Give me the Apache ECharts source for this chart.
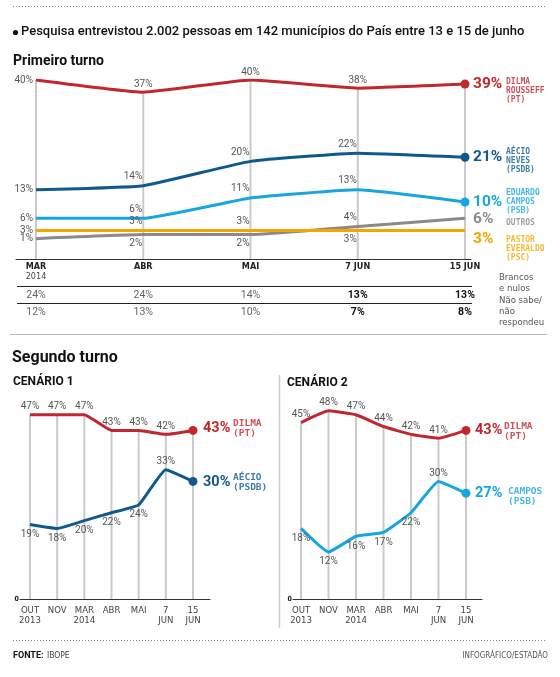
<!DOCTYPE html>
<html><head><meta charset="utf-8">
<script src="https://cdn.jsdelivr.net/npm/echarts@6/dist/echarts.min.js"></script>
<style>html,body{margin:0;padding:0;background:#fff}#c{width:560px;height:677px}</style>
</head><body><div id="c"></div>
<script>
// ---------- DATA ----------
const topCategories = ['MAR\n2014', 'ABR', 'MAI', '7 JUN', '15 JUN'];
const dilma1 = [40, 37, 40, 38, 39];
const aecio1 = [13, 14, 20, 22, 21];
const campos1 = [6, 6, 11, 13, 10];
const outros1 = [1, 2, 2, 4, 6];
const everaldo1 = [3, 3, 3, 3, 3];
const brancosNulos = ['24%', '24%', '14%', '13%', '13%'];
const naoSabe = ['12%', '13%', '10%', '7%', '8%'];
const secondCategories = ['OUT\n2013', 'NOV', 'MAR\n2014', 'ABR', 'MAI', '7\nJUN', '15\nJUN'];
const c1Dilma = [47, 47, 47, 43, 43, 42, 43];
const c1Aecio = [19, 18, 20, 22, 24, 33, 30];
const c2Dilma = [45, 48, 47, 44, 42, 41, 43];
const c2Campos = [18, 12, 16, 17, 22, 30, 27];
const names1 = {dilma: 'DILMA\nROUSSEFF\n(PT)', aecio: 'AÉCIO\nNEVES\n(PSDB)', campos: 'EDUARDO\nCAMPOS\n(PSB)', outros: 'OUTROS', everaldo: 'PASTOR\nEVERALDO\n(PSC)'};
const names2 = {dilma: 'DILMA\n(PT)', aecio: 'AÉCIO\n(PSDB)', campos: 'CAMPOS\n(PSB)'};

// ---------- STYLE ----------
const COND = '"DejaVu Sans Condensed",sans-serif';
const HEAD = 'Roboto,"Noto Sans",sans-serif';
const NUM = 'Roboto,sans-serif';
const MONO = '"DejaVu Sans Mono",monospace';
const RED = '#c1272d', DBLUE = '#0f5a8c', LBLUE = '#18a6e0', GRAY = '#8a8a8a', ORANGE = '#f5a500';
const LBL = '#555';
const DOT = 9;

function lbl(code, v) {
  const base = {show: true, formatter: v + '%', fontSize: 10, color: LBL, fontFamily: NUM};
  switch (code) {
    case 'L': return Object.assign(base, {position: 'left', distance: 3});
    case 'T': return Object.assign(base, {position: 'top', distance: 3});
    case 'LA': return Object.assign(base, {position: 'left', distance: 1, offset: [0, -9]});
    case 'LB': return Object.assign(base, {position: 'left', distance: 1, offset: [0, 9]});
    case 'B': return Object.assign(base, {position: 'bottom', distance: 5});
    default: return {show: false};
  }
}

function lineSeries(vals, color, ai, pos, o) {
  const n = vals.length;
  return {
    type: 'line', xAxisIndex: ai, yAxisIndex: ai, smooth: 0.12, symbol: 'circle', z: 3,
    showAllSymbol: true,
    lineStyle: {color: color, width: 3}, itemStyle: {color: color},
    data: vals.map((v, i) => {
      const last = i === n - 1;
      const d = {value: [i, v], symbolSize: last && o.dot ? DOT : 0};
      d.label = last ? {show: true, position: 'right', distance: o.dot ? o.gap - DOT / 2 : o.gap, offset: [0, o.valDy || 0],
        formatter: v + '%', fontSize: o.valSize, fontWeight: 'bold', color: color, fontFamily: NUM}
        : lbl(pos[i], v);
      return d;
    })
  };
}

function nameSeries(vals, name, color, ai, o) {
  const n = vals.length;
  return {
    type: 'scatter', xAxisIndex: ai, yAxisIndex: ai, symbolSize: 0, z: 4, silent: true,
    data: [{value: [n - 1, vals[n - 1]]}],
    label: {show: true, position: 'right', distance: o.dx, offset: [0, o.dy], formatter: name,
      fontFamily: MONO, fontWeight: 'bold', fontSize: o.size, lineHeight: o.lh, color: color, align: 'left'}
  };
}

function vlines(seriesList, ai, base) {
  const n = seriesList[0].length;
  const tops = [];
  for (let i = 0; i < n; i++) tops.push(Math.max.apply(null, seriesList.map(s => s[i])));
  return {
    type: 'custom', xAxisIndex: ai, yAxisIndex: ai, z: 1, silent: true,
    data: tops.map((t, i) => [i, t]),
    renderItem: function (params, api) {
      const p1 = api.coord([api.value(0), base]);
      const p2 = api.coord([api.value(0), api.value(1)]);
      return {type: 'line', shape: {x1: p1[0], y1: p1[1], x2: p2[0], y2: p2[1]},
        style: {stroke: '#cacaca', lineWidth: 2}};
    }
  };
}

function catFormatter(cats, boldFirst) {
  return function (v) {
    const c = cats[Math.round(v)];
    if (c === undefined) return '';
    const parts = c.split('\n');
    if (boldFirst) return '{b|' + parts[0] + '}' + (parts[1] ? '\n{r|' + parts[1] + '}' : '');
    return parts.join('\n');
  };
}

const chart = echarts.init(document.getElementById('c'), null, {renderer: 'canvas'});

const topPos = {
  dilma: ['L', 'T', 'T', 'T'],
  aecio: ['L', 'LA', 'LA', 'LA'],
  campos: ['L', 'LA', 'LA', 'LA'],
  outros: ['L', 'LB', 'LB', 'LA'],
  everaldo: ['L', 'LA', 'LA', 'LB']
};
const c1Pos = {dilma: ['T', 'T', 'T', 'T', 'T', 'T'], other: ['B', 'B', 'B', 'B', 'B', 'T']};

const option = {
  animation: false,
  backgroundColor: '#fff',
  grid: [
    {left: 16, top: 80, width: 455, height: 179},
    {left: 20, top: 403, width: 190, height: 196},
    {left: 293, top: 403, width: 189, height: 196}
  ],
  xAxis: [
    {type: 'value', gridIndex: 0, min: -0.1865, max: 4.056,
      axisLine: {show: true, onZero: false, lineStyle: {color: '#333', width: 1}}, axisTick: {show: false}, splitLine: {show: false},
      axisLabel: {customValues: [0, 1, 2, 3, 4], formatter: catFormatter(topCategories, true), margin: 3,
        rich: {b: {fontFamily: COND, fontWeight: 'bold', fontSize: 9, color: '#222', lineHeight: 10},
               r: {fontFamily: COND, fontSize: 9, color: '#444', lineHeight: 9}}}},
    {type: 'value', gridIndex: 1, min: -0.368, max: 6.626,
      axisLine: {show: true, onZero: false, lineStyle: {color: '#333', width: 1}}, axisTick: {show: false}, splitLine: {show: false},
      axisLabel: {customValues: [0, 1, 2, 3, 4, 5, 6], formatter: catFormatter(secondCategories, false), margin: 7,
        fontFamily: COND, fontSize: 9.5, color: '#444', lineHeight: 9.5}},
    {type: 'value', gridIndex: 2, min: -0.291, max: 6.582,
      axisLine: {show: true, onZero: false, lineStyle: {color: '#333', width: 1}}, axisTick: {show: false}, splitLine: {show: false},
      axisLabel: {customValues: [0, 1, 2, 3, 4, 5, 6], formatter: catFormatter(secondCategories, false), margin: 7,
        fontFamily: COND, fontSize: 9.5, color: '#444', lineHeight: 9.5}}
  ],
  yAxis: [
    {type: 'value', gridIndex: 0, min: -4, max: 40, show: false},
    {type: 'value', gridIndex: 1, min: 0, max: 50, axisLine: {show: false}, axisTick: {show: false}, splitLine: {show: false},
      axisLabel: {customValues: [0], margin: 1, fontSize: 7, fontWeight: 'bold', color: '#222', fontFamily: COND}},
    {type: 'value', gridIndex: 2, min: 0, max: 50, axisLine: {show: false}, axisTick: {show: false}, splitLine: {show: false},
      axisLabel: {customValues: [0], margin: 1, fontSize: 7, fontWeight: 'bold', color: '#222', fontFamily: COND}}
  ],
  series: [
    vlines([dilma1, aecio1, campos1, outros1, everaldo1], 0, -4),
    lineSeries(outros1, GRAY, 0, topPos.outros, {dot: false, gap: 8, valDy: 1, valSize: 15.5}),
    lineSeries(everaldo1, ORANGE, 0, topPos.everaldo, {dot: false, gap: 8, valDy: 9, valSize: 15.5}),
    lineSeries(campos1, LBLUE, 0, topPos.campos, {dot: true, gap: 8, valDy: 0, valSize: 15.5}),
    lineSeries(aecio1, DBLUE, 0, topPos.aecio, {dot: true, gap: 8, valDy: 0, valSize: 15.5}),
    lineSeries(dilma1, RED, 0, topPos.dilma, {dot: true, gap: 8, valDy: 0, valSize: 15.5}),
    nameSeries(dilma1, names1.dilma, RED, 0, {dx: 41, dy: 7, size: 8, lh: 9}),
    nameSeries(aecio1, names1.aecio, DBLUE, 0, {dx: 41, dy: 4, size: 8, lh: 9}),
    nameSeries(campos1, names1.campos, LBLUE, 0, {dx: 41, dy: 0, size: 8, lh: 9}),
    nameSeries(outros1, names1.outros, GRAY, 0, {dx: 41, dy: 5, size: 8, lh: 9}),
    nameSeries(everaldo1, names1.everaldo, ORANGE, 0, {dx: 41, dy: 18, size: 8, lh: 9}),

    vlines([c1Dilma, c1Aecio], 1, 0),
    lineSeries(c1Aecio, DBLUE, 1, c1Pos.other, {dot: true, gap: 10, valDy: 1, valSize: 14.5}),
    lineSeries(c1Dilma, RED, 1, c1Pos.dilma, {dot: true, gap: 10, valDy: -2, valSize: 14.5}),
    nameSeries(c1Dilma, names2.dilma, RED, 1, {dx: 40, dy: -2, size: 9.5, lh: 10}),
    nameSeries(c1Aecio, names2.aecio, DBLUE, 1, {dx: 40, dy: 1, size: 9.5, lh: 10}),

    vlines([c2Dilma, c2Campos], 2, 0),
    lineSeries(c2Campos, LBLUE, 2, c1Pos.other, {dot: true, gap: 9, valDy: 0, valSize: 14.5}),
    lineSeries(c2Dilma, RED, 2, c1Pos.dilma, {dot: true, gap: 9, valDy: 0, valSize: 14.5}),
    nameSeries(c2Dilma, names2.dilma, RED, 2, {dx: 38, dy: 1, size: 9.5, lh: 10}),
    nameSeries(c2Campos, names2.campos, LBLUE, 2, {dx: 42, dy: 3, size: 9.5, lh: 10})
  ]
};
chart.setOption(option);

// ---------- TEXT / DECORATION ----------
const g = [];
function txt(x, y, text, font, fill, align, lh) {
  g.push({type: 'text', x: x, y: y, silent: true,
    style: {text: text, font: font, fill: fill, align: align || 'left', verticalAlign: 'middle', lineHeight: lh}});
}
function line(x1, y1, x2, y2, stroke, w, dash) {
  g.push({type: 'line', silent: true, shape: {x1: x1, y1: y1, x2: x2, y2: y2},
    style: {stroke: stroke, lineWidth: w, lineDash: dash || null}});
}
line(13, 6.5, 546, 6.5, '#888', 1, [1, 2]);
g.push({type: 'circle', silent: true, shape: {cx: 15.5, cy: 32.5, r: 2.6}, style: {fill: '#111'}});
txt(21, 32, 'Pesquisa entrevistou 2.002 pessoas em 142 municípios do País entre 13 e 15 de junho', '500 13px ' + HEAD, '#111');
txt(13, 61, 'Primeiro turno', 'bold 14px ' + HEAD, '#111');

// table under top chart
line(17, 286.5, 472, 286.5, '#222', 1);
line(17, 303.5, 472, 303.5, '#222', 1);
line(10, 334.5, 547, 334.5, '#bbb', 1);
for (let i = 0; i < topCategories.length; i++) {
  const x = chart.convertToPixel({xAxisIndex: 0}, i);
  const bold = i >= 3;
  const font = (bold ? 'bold 10.5px ' : '10.5px ') + NUM;
  const col = bold ? '#111' : '#666';
  txt(x, 295, brancosNulos[i], font, col, 'center');
  txt(x, 312, naoSabe[i], font, col, 'center');
}
txt(499, 283, 'Brancos\ne nulos', '9.5px ' + COND, '#555', 'left', 10.5);
txt(499, 312, 'Não sabe/\nnão\nrespondeu', '9.5px ' + COND, '#555', 'left', 11);

txt(12, 358, 'Segundo turno', 'bold 16px ' + HEAD, '#111');
txt(13, 382, 'CENÁRIO 1', 'bold 12px ' + HEAD, '#111');
txt(287, 383, 'CENÁRIO 2', 'bold 12px ' + HEAD, '#111');
line(279.5, 375, 279.5, 628, '#ccc', 1.5);
line(13, 640.5, 546, 640.5, '#888', 1, [1, 2]);
g.push({type: 'text', x: 13, y: 656, silent: true, style: {
  text: '{b|FONTE:} {r|IBOPE}', verticalAlign: 'middle',
  rich: {b: {font: 'bold 9px ' + HEAD, fill: '#111'}, r: {font: '8.5px ' + COND, fill: '#444'}}}});
txt(548, 656, 'INFOGRÁFICO/ESTADÃO', '8px ' + COND, '#555', 'right');

chart.setOption({graphic: g});
</script></body></html>
